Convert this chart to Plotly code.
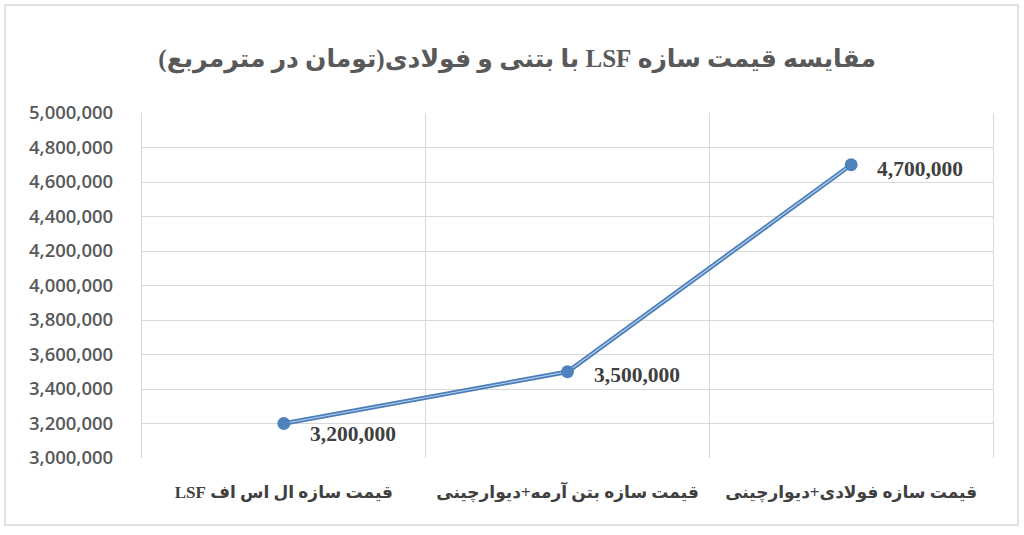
import plotly.graph_objects as go

# data
categories = [
    "قیمت سازه ال اس اف LSF",
    "قیمت سازه بتن آرمه+دیوارچینی",
    "قیمت سازه فولادی+دیوارچینی",
]
prices = [3200000, 3500000, 4700000]
y_ticks = list(range(3000000, 5000001, 200000))
title = "مقایسه قیمت سازه LSF با بتنی و فولادی(تومان در مترمربع)"

RLE, PDF = "\u202b", "\u202c"
cat_labels = [RLE + c + PDF for c in categories]
value_labels = [f"{v:,}" for v in prices]
label_yshift = [-10, -3, -4]

fig = go.Figure()

# outer double-line look of the excel series
fig.add_trace(go.Scatter(
    x=cat_labels, y=prices, mode="lines",
    line=dict(color="#4A7EBB", width=4.6),
    hoverinfo="skip", showlegend=False))
fig.add_trace(go.Scatter(
    x=cat_labels, y=prices, mode="lines+markers",
    line=dict(color="#B9CFEA", width=1.2),
    marker=dict(size=13, color="#4F81BD", line=dict(width=0)),
    showlegend=False))

# data labels
for cat, v, lab, dy in zip(cat_labels, prices, value_labels, label_yshift):
    fig.add_annotation(x=cat, y=v, text=lab, showarrow=False,
                       xanchor="left", yanchor="middle", xshift=24, yshift=dy,
                       font=dict(family="Liberation Serif", size=21.5, color="#404040", weight="bold"))

fig.update_layout(
    width=1024,
    height=535,
    margin=dict(l=142, r=31, t=113, b=77),
    paper_bgcolor="white",
    plot_bgcolor="white",
    title=dict(
        text=RLE + title + PDF,
        x=0.505, xanchor="center",
        y=0.892, yanchor="middle", yref="container",
        font=dict(family="Liberation Serif, DejaVu Sans", size=25, color="#595959", weight="bold"),
    ),
)

fig.update_xaxes(
    type="category",
    tickson="boundaries",
    showgrid=True, gridcolor="#D9D9D9", gridwidth=1.3,
    showline=False, ticks="",
    ticklabelstandoff=22,
    tickfont=dict(family="Liberation Serif, DejaVu Sans", size=17, color="#404040", weight="bold"),
    range=[-0.5, 2.5],
)
fig.update_yaxes(
    range=[3000000, 5000000],
    tickvals=y_ticks,
    ticktext=[f"{v:,}" for v in y_ticks],
    showgrid=True, gridcolor="#D9D9D9", gridwidth=1.3,
    zeroline=False, showline=True, mirror=True, linecolor="#D9D9D9", linewidth=1.3,
    ticks="",
    ticklabelstandoff=24,
    tickfont=dict(family="Open Sans", size=18.5, color="#595959", weight=600),
)

# chart-area border
fig.add_shape(type="rect", xref="paper", yref="paper",
              x0=-0.161, x1=1.0294, y0=-0.194, y1=1.313,
              line=dict(color="#D9D9D9", width=1.5), layer="below")

fig.write_html("out.html", config={"displayModeBar": False},
               post_script="document.body.style.margin='0';")
